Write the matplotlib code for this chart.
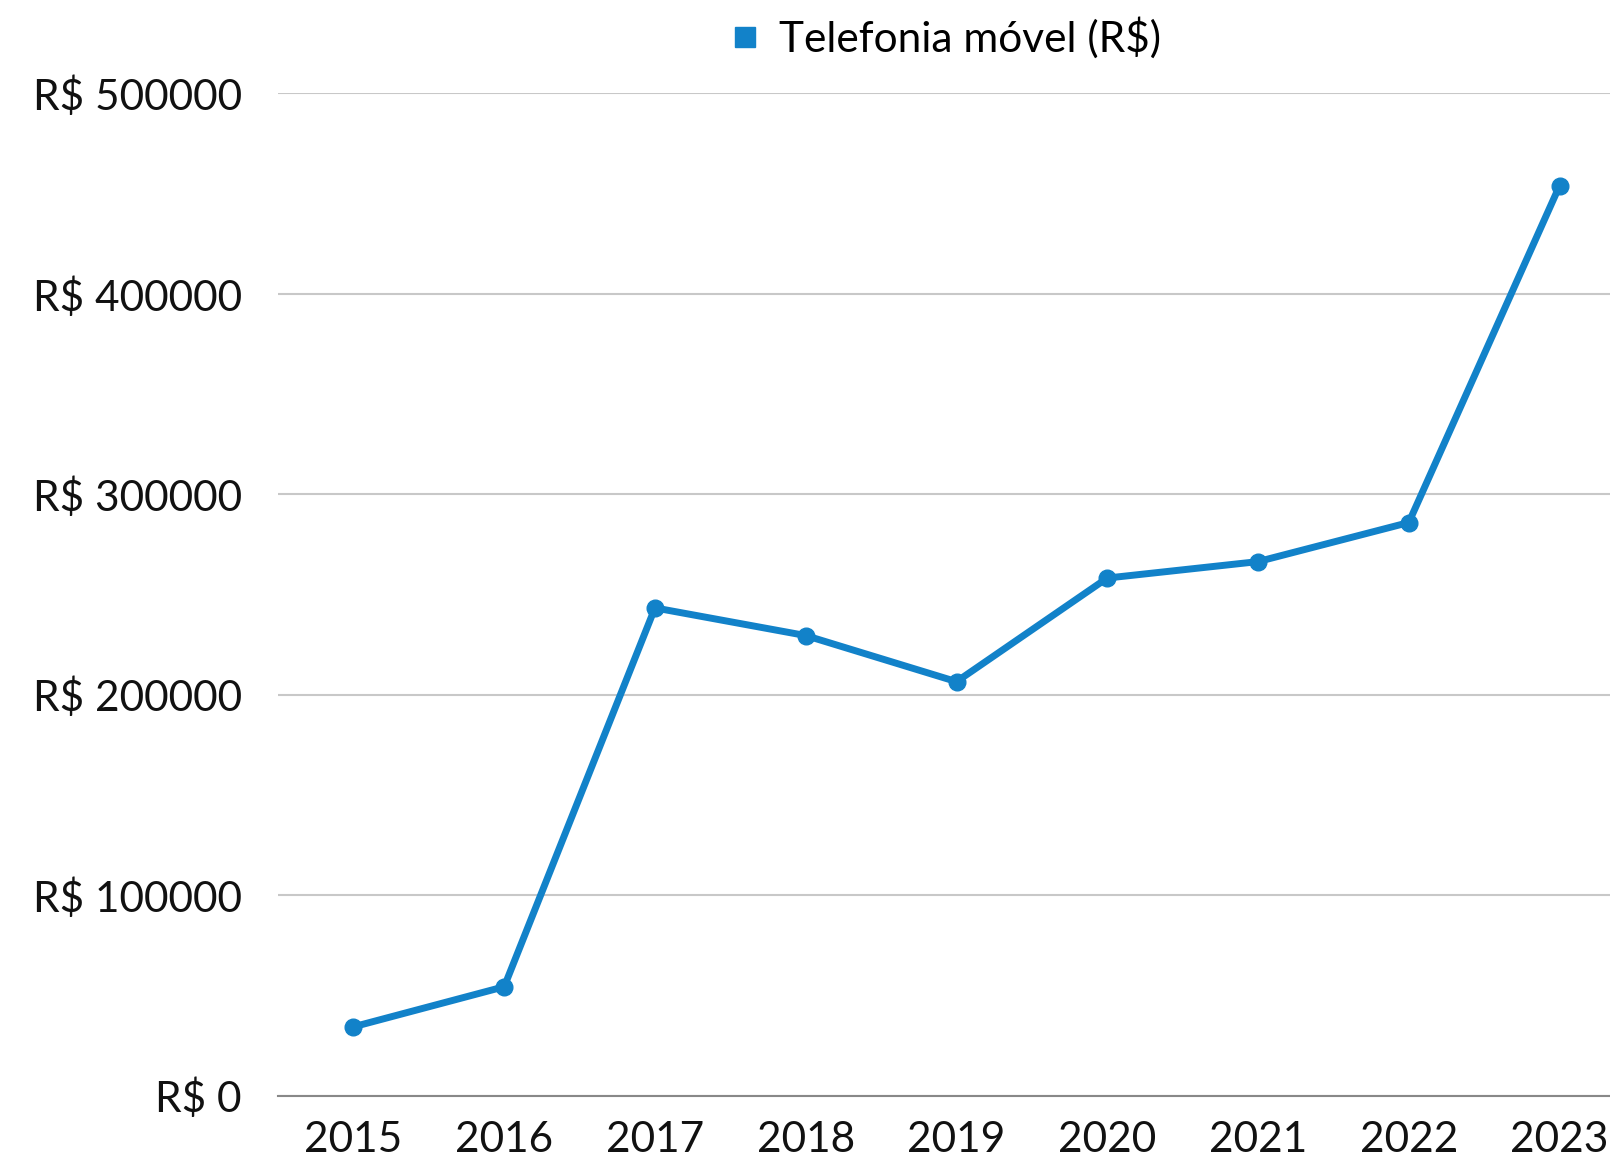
import matplotlib
matplotlib.use("Agg")
import matplotlib.pyplot as plt
from matplotlib.ticker import FuncFormatter, MultipleLocator
from matplotlib.lines import Line2D

years = ["2015", "2016", "2017", "2018", "2019", "2020", "2021", "2022", "2023"]
values = [34300, 54300, 243300, 229500, 206500, 258200, 266400, 285900, 453900]
series_name = "Telefonia móvel (R$)"
color = "#1282C9"

plt.rcParams["font.family"] = ["Lato", "DejaVu Sans"]

fig = plt.figure(figsize=(16.1, 11.57), dpi=100)
ax = fig.add_axes([0.1727, 0.0531, 0.8428, 0.8662])

x = list(range(len(years)))
ax.plot(x, values, color=color, lw=5, marker="o", markersize=12, zorder=3)

ax.set_xlim(-0.5, len(years) - 0.5)
ax.set_ylim(0, 500000)
ax.yaxis.set_major_locator(MultipleLocator(100000))
ax.yaxis.set_major_formatter(FuncFormatter(lambda v, p: f"R$ {int(v)}"))
ax.set_xticks(x)
ax.set_xticklabels(years)

ax.grid(axis="y", color="#C8C8C8", lw=1.5)
ax.set_axisbelow(True)
for s in ["top", "right", "left"]:
    ax.spines[s].set_visible(False)
ax.spines["bottom"].set_color("#888888")
ax.spines["bottom"].set_linewidth(1.5)

ax.tick_params(axis="both", length=0, labelsize=30.5, colors="#111111")
ax.tick_params(axis="y", pad=26)
ax.tick_params(axis="x", pad=18)

handle = Line2D([], [], color=color, marker="s", linestyle="None", markersize=14)
fig.legend([handle], [series_name], loc="center", bbox_to_anchor=(0.5855, 0.967),
           frameon=False, fontsize=30.5, handletextpad=0.3, handlelength=1.0)

fig.savefig("out.png", dpi=100)
